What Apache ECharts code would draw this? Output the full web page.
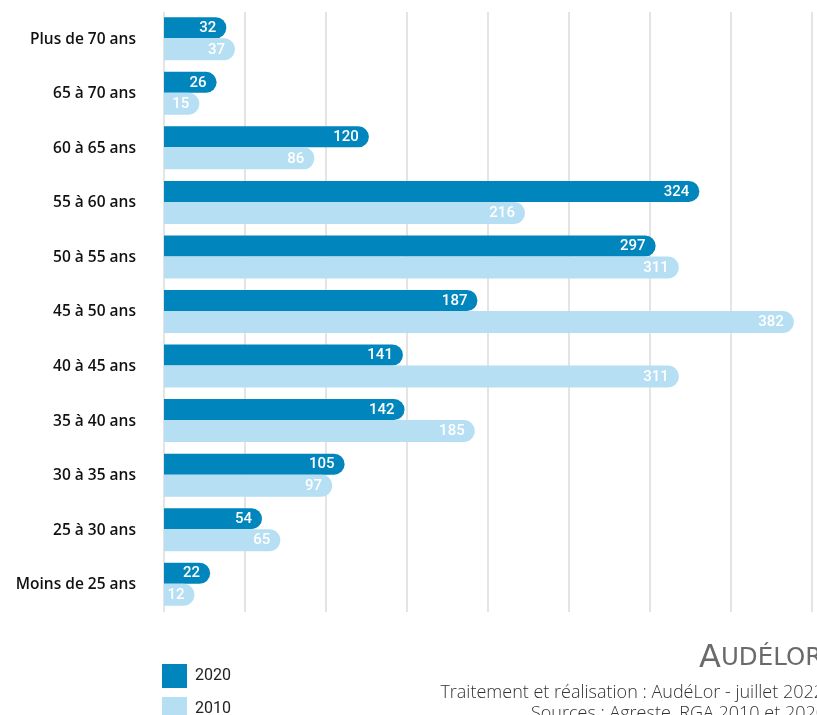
<!DOCTYPE html>
<html>
<head>
<meta charset="utf-8">
<script src="https://cdn.jsdelivr.net/npm/echarts@6/dist/echarts.min.js"></script>
<style>
html,body{margin:0;padding:0;background:#fff;}
#chart{width:817px;height:715px;}
</style>
</head>
<body>
<div id="chart"></div>
<script>
const categories = ["Plus de 70 ans","65 à 70 ans","60 à 65 ans","55 à 60 ans","50 à 55 ans","45 à 50 ans","40 à 45 ans","35 à 40 ans","30 à 35 ans","25 à 30 ans","Moins de 25 ans"];
const values2020 = [32,26,120,324,297,187,141,142,105,54,22];
const values2010 = [37,15,86,216,311,382,311,185,97,65,12];
const seriesNames = ["2020","2010"];
const colors = ["#0086bc","#b7dff4"];

const chart = echarts.init(document.getElementById('chart'));

function makeRender(yTop, yBottom){
  return function(params, api){
    const v = api.value(0);
    const c = api.value(1);
    const p0 = api.coord([0, c]);
    const p1 = api.coord([v, c]);
    const h = yBottom - yTop;
    const r = h/2;
    const w = p1[0] - p0[0] + r;
    return {
      type:'group',
      children:[
        {type:'rect', shape:{x:p0[0], y:p0[1]+yTop, width:w, height:h, r:[0,r,r,0]}, style:{fill: api.visual('color')}},
        {type:'text', style:{text:String(v), x:p0[0]+w-10, y:p0[1]+(yTop+yBottom)/2+0.5, align:'right', verticalAlign:'middle', fill:'#ffffff', font:'500 15px Roboto'}}
      ]
    };
  };
}

chart.setOption({
  animation:false,
  backgroundColor:'#fff',
  grid:{left:164, right:5, top:12, bottom:103, containLabel:false},
  xAxis:{type:'value', min:0, max:400, interval:50,
    axisLabel:{show:false}, axisLine:{show:false}, axisTick:{show:false},
    splitLine:{show:true, lineStyle:{color:'#e4e4e4', width:2}}},
  yAxis:{type:'category', data:categories, inverse:true,
    axisLine:{show:false}, axisTick:{show:false}, splitLine:{show:false},
    axisLabel:{margin:28, color:'#111', fontFamily:'Open Sans', fontWeight:600, fontSize:15.5, padding:[3,0,0,0]}},
  legend:{orient:'vertical', left:162, top:664, height:120, padding:0, itemWidth:25, itemHeight:24, itemGap:9, icon:'rect',
    data:seriesNames,
    textStyle:{fontFamily:'Roboto', fontSize:16, color:'#222', padding:[5,0,0,3]}},
  series:[
    {type:'custom', name:seriesNames[0], renderItem:makeRender(-22,-1),
      itemStyle:{color:colors[0]}, encode:{x:0,y:1},
      data:values2020.map((v,i)=>[v,i])},
    {type:'custom', name:seriesNames[1], renderItem:makeRender(-1,21),
      itemStyle:{color:colors[1]}, encode:{x:0,y:1},
      data:values2010.map((v,i)=>[v,i])}
  ],
  graphic:[
    {type:'text', left:699, top:643, style:{
      text:'{a|A}{b|UDÉLOR}',
      rich:{a:{fontSize:32, fontFamily:'DejaVu Sans', fill:'#6a6a6a'},
            b:{fontSize:24.5, fontFamily:'DejaVu Sans', fill:'#6a6a6a'}}}},
    {type:'text', x:824, y:693, style:{text:'Traitement et réalisation : AudéLor - juillet 2022', align:'right', verticalAlign:'middle', font:'300 18px "Open Sans"', fill:'#333'}},
    {type:'text', x:826, y:714, style:{text:'Sources : Agreste, RGA 2010 et 2020', align:'right', verticalAlign:'middle', font:'300 18px "Open Sans"', fill:'#333'}}
  ]
});
</script>
</body>
</html>
